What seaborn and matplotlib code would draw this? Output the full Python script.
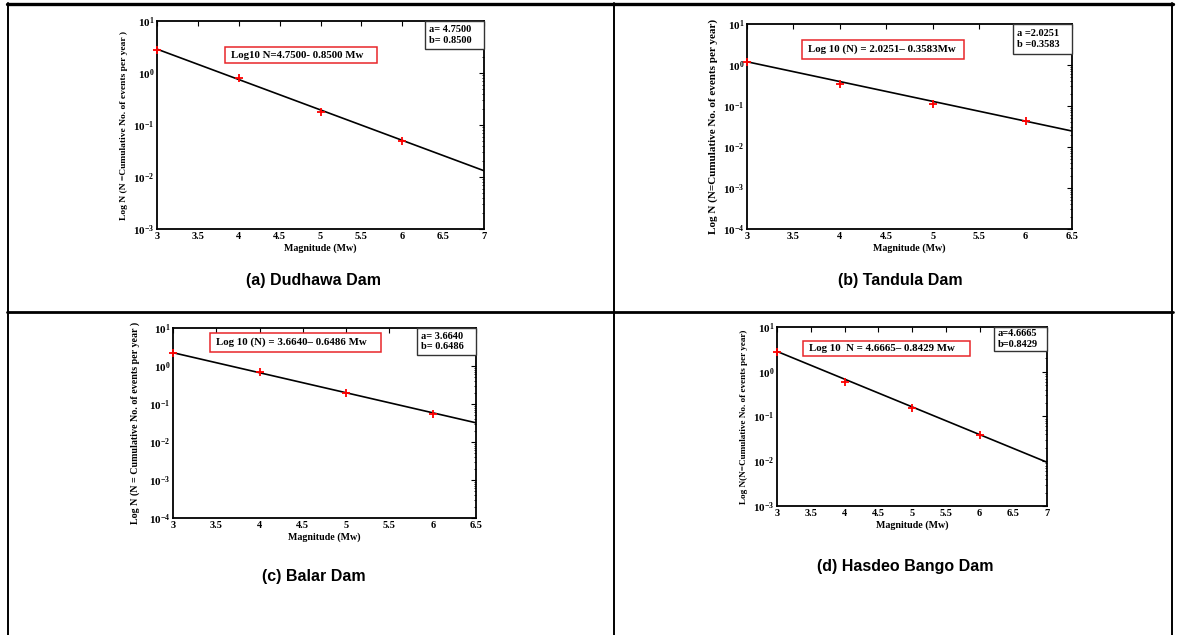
import matplotlib
matplotlib.use("Agg")
import matplotlib.pyplot as plt
import seaborn as sns
import numpy as np
import pandas as pd
from matplotlib.patches import Rectangle
from matplotlib.lines import Line2D
from matplotlib.ticker import LogLocator, FixedLocator, NullFormatter

# ---------------- data ----------------
magnitudes = [3, 4, 5, 6]

dudhawa_N = [2.75, 0.81, 0.175, 0.050]
tandula_N = [1.20, 0.35, 0.110, 0.044]
balar_N = [2.15, 0.71, 0.190, 0.054]
hasdeo_N = [2.70, 0.60, 0.155, 0.038]

# fitted lines as drawn (values at the ends of the x range)
dudhawa_fit_x = [3, 7]
dudhawa_fit_N = [2.88, 0.0132]
tandula_fit_x = [3, 6.5]
tandula_fit_N = [1.20, 0.0245]
balar_fit_x = [3, 6.5]
balar_fit_N = [2.24, 0.032]
hasdeo_fit_x = [3, 7]
hasdeo_fit_N = [2.85, 0.0095]

equations = [
    "Log10 N=4.7500- 0.8500 Mw",
    "Log 10 (N) = 2.0251\u2013 0.3583Mw",
    "Log 10 (N) = 3.6640\u2013 0.6486 Mw",
    "Log 10  N = 4.6665\u2013 0.8429 Mw",
]
coefficients = [
    "a= 4.7500\nb= 0.8500",
    "a =2.0251\nb =0.3583",
    "a= 3.6640\nb= 0.6486",
    "a=4.6665\nb=0.8429",
]
captions = ["(a) Dudhawa Dam", "(b) Tandula Dam", "(c) Balar Dam", "(d) Hasdeo Bango Dam"]
ylabels = [
    "Log N (N =Cumulative No. of events per year )",
    "Log N (N=Cumulative No. of events per year)",
    "Log N (N = Cumulative No. of events per year )",
    "Log N(N=Cumulative No. of events per year)",
]
xlims = [(3, 7), (3, 6.5), (3, 6.5), (3, 7)]
ylims = [(1e-3, 1e1), (1e-4, 1e1), (1e-4, 1e1), (1e-3, 1e1)]

points = [dudhawa_N, tandula_N, balar_N, hasdeo_N]
fits = [(dudhawa_fit_x, dudhawa_fit_N), (tandula_fit_x, tandula_fit_N),
        (balar_fit_x, balar_fit_N), (hasdeo_fit_x, hasdeo_fit_N)]

# ---------------- layout (pixels) ----------------
W, H = 1180, 635
sns.set_style("white")
plt.rcParams["font.family"] = ["Liberation Serif", "DejaVu Serif"]
plt.rcParams["mathtext.fontset"] = "custom"
plt.rcParams["mathtext.rm"] = "Liberation Serif:bold"
plt.rcParams["mathtext.bf"] = "Liberation Serif:bold"
plt.rcParams["mathtext.it"] = "Liberation Serif:bold"
for key in ["text.color", "axes.labelcolor", "xtick.color", "ytick.color", "axes.edgecolor"]:
    plt.rcParams[key] = "black"

fig = plt.figure(figsize=(W / 100, H / 100), dpi=100)
fig.patch.set_facecolor("white")


def fx(px):
    return px / W


def fy(py):
    return 1 - py / H


# axes boxes: left, right, top, bottom in pixels
axes_px = [(157, 484, 21, 229), (747, 1072, 24, 229), (173, 476, 328, 518), (777, 1047, 327, 506)]
eq_box_px = [(225, 377, 47, 63), (802, 964, 40, 59), (210, 381, 333, 352), (803, 970, 341, 356)]
coef_box_px = [(425, 484, 21, 49), (1013, 1072, 24, 54), (417, 476, 328, 355), (994, 1047, 327, 351)]
caption_px = [(313, 280), (900, 280), (314, 577), (905, 566)]
ylabel_x = [128, 718, 140, 748]
ylabel_size = [6.8, 8.0, 7.2, 6.6]

for i in range(4):
    l, r, t, b = axes_px[i]
    ax = fig.add_axes([fx(l), fy(b), (r - l) / W, (b - t) / H])
    ax.set_yscale("log")
    fx_, fn_ = fits[i]
    sns.lineplot(x=fx_, y=fn_, color="black", linewidth=1.2, ax=ax)
    sns.scatterplot(x=magnitudes, y=points[i], marker="+", color="red", s=28,
                    linewidth=1.3, ax=ax, zorder=5, clip_on=False)
    ax.set_xlim(*xlims[i])
    ax.set_ylim(*ylims[i])
    xt = np.arange(xlims[i][0], xlims[i][1] + 0.01, 0.5)
    ax.xaxis.set_major_locator(FixedLocator(xt))
    ax.set_xticklabels([("%g" % v) for v in xt], fontsize=7.5, fontweight="bold")
    lo, hi = int(np.log10(ylims[i][0])), int(np.log10(ylims[i][1]))
    yt = [10.0 ** k for k in range(lo, hi + 1)]
    ax.yaxis.set_major_locator(FixedLocator(yt))
    ax.set_yticklabels([r"$10^{%d}$" % k for k in range(lo, hi + 1)], fontsize=8)
    ax.yaxis.set_minor_locator(LogLocator(base=10, subs=np.arange(2, 10), numticks=20))
    ax.yaxis.set_minor_formatter(NullFormatter())
    ax.tick_params(which="both", direction="in", top=True, right=True, pad=2)
    ax.tick_params(which="major", length=3.5, width=0.8)
    ax.tick_params(which="minor", length=1.8, width=0.6)
    for s in ax.spines.values():
        s.set_linewidth(1.3)
        s.set_color("black")
    ax.set_xlabel("Magnitude (Mw)", fontsize=7.2, fontweight="bold", labelpad=2)
    ax.set_ylabel(ylabels[i], fontsize=ylabel_size[i], fontweight="bold")
    ax.yaxis.set_label_coords((ylabel_x[i] - l) / (r - l), 0.5)
    ax.grid(False)

    # equation box (red)
    x0, x1, y0, y1 = eq_box_px[i]
    fig.add_artist(Rectangle((fx(x0), fy(y1)), (x1 - x0) / W, (y1 - y0) / H,
                             transform=fig.transFigure, facecolor="white",
                             edgecolor="#e8262a", linewidth=1.1, zorder=10))
    fig.text(fx(x0 + 6), fy((y0 + y1) / 2), equations[i], fontsize=7.8, fontweight="bold",
             ha="left", va="center", zorder=11)

    # coefficient box (black)
    x0, x1, y0, y1 = coef_box_px[i]
    fig.add_artist(Rectangle((fx(x0), fy(y1)), (x1 - x0) / W, (y1 - y0) / H,
                             transform=fig.transFigure, facecolor="white",
                             edgecolor="#333333", linewidth=1.0, zorder=10))
    fig.text(fx(x0 + 4), fy((y0 + y1) / 2), coefficients[i], fontsize=7.5, fontweight="bold",
             ha="left", va="center", linespacing=1.2, zorder=11)

    # caption
    cx, cy = caption_px[i]
    fig.text(fx(cx), fy(cy), captions[i], fontsize=11.5, fontweight="bold", color="black",
             family=["Liberation Sans", "DejaVu Sans"], ha="center", va="center")

# table rules
def hline(y, x0, x1, lw):
    fig.add_artist(Line2D([fx(x0), fx(x1)], [fy(y), fy(y)], transform=fig.transFigure,
                          color="black", linewidth=lw))


def vline(x, y0, y1, lw):
    fig.add_artist(Line2D([fx(x), fx(x)], [fy(y0), fy(y1)], transform=fig.transFigure,
                          color="black", linewidth=lw))

hline(4, 7, 1173, 2.4)
hline(312, 7, 1173, 2.0)
vline(8, 3, 635, 1.4)
vline(614, 3, 635, 1.4)
vline(1172, 3, 635, 1.4)

fig.savefig("out.png", dpi=100, facecolor="white")
